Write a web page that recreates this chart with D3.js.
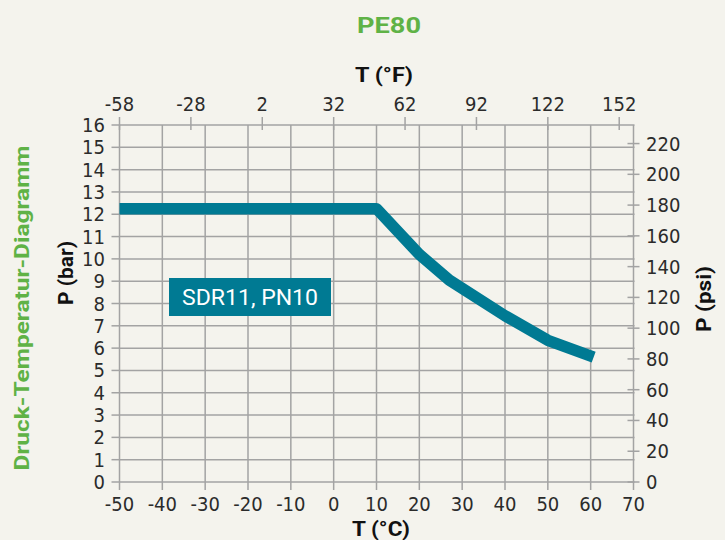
<!DOCTYPE html>
<html><head><meta charset="utf-8">
<script src="https://cdn.jsdelivr.net/npm/d3@7"></script>
<style>
html,body{margin:0;padding:0;background:#f4f3ed;}
svg{display:block;}
text{font-family:Roboto,"Noto Sans",sans-serif;}
.tick{font-family:"Liberation Sans Narrow","DejaVu Sans Condensed",Roboto,sans-serif;}
</style></head>
<body><svg id="c" width="725" height="540"></svg>
<script>
const title = "PE80";
const sideTitle = "Druck-Temperatur-Diagramm";
const seriesLabel = "SDR11, PN10";
const tempC = [-50, 10, 20, 27, 40, 50, 60.7];
const pressureBar = [12.25, 12.25, 10.2, 9.05, 7.45, 6.35, 5.6];
const xTicksC = [-50,-40,-30,-20,-10,0,10,20,30,40,50,60,70];
const yTicksBar = d3.range(0, 17);
const xTicksF = [-58,-28,2,32,62,92,122,152];
const yTicksPsi = [0,20,40,60,80,100,120,140,160,180,200,220];

const svg = d3.select("#c");
const x = d3.scaleLinear().domain([-50, 70]).range([119.5, 633.5]);
const y = d3.scaleLinear().domain([0, 16]).range([482, 125]);
const fToC = f => (f - 32) * 5 / 9;
const psiToBar = p => p / 14.5038;
const grid = "#a3a3a3";

// grid
svg.append("g").selectAll("line").data(yTicksBar).join("line")
  .attr("x1", x(-50)).attr("x2", x(70) + 1)
  .attr("y1", d => y(d)).attr("y2", d => y(d))
  .attr("stroke", grid).attr("stroke-width", 1.5);
svg.append("g").selectAll("line").data(xTicksC).join("line")
  .attr("x1", d => x(d)).attr("x2", d => x(d))
  .attr("y1", y(16)).attr("y2", y(0) + 8)
  .attr("stroke", grid).attr("stroke-width", 1.5);
svg.append("g").selectAll("line").data(yTicksBar).join("line")
  .attr("x1", x(-50) - 8).attr("x2", x(-50))
  .attr("y1", d => y(d)).attr("y2", d => y(d))
  .attr("stroke", grid).attr("stroke-width", 1.5);
svg.append("g").selectAll("line").data(xTicksF).join("line")
  .attr("x1", d => x(fToC(d))).attr("x2", d => x(fToC(d)))
  .attr("y1", y(16) - 8).attr("y2", y(16) + 5)
  .attr("stroke", grid).attr("stroke-width", 1.5);
svg.append("g").selectAll("line").data(yTicksPsi).join("line")
  .attr("x1", x(70) - 6).attr("x2", x(70) + 6)
  .attr("y1", d => y(psiToBar(d))).attr("y2", d => y(psiToBar(d)))
  .attr("stroke", grid).attr("stroke-width", 1.5);

const fs = "20px", fc = "#2b2b2b";
svg.append("g").selectAll("text").data(yTicksBar).join("text").attr("class", "tick")
  .attr("x", 105).attr("y", d => y(d) + 7)
  .attr("text-anchor", "end").attr("font-size", fs).attr("fill", fc).text(d => d);
svg.append("g").selectAll("text").data(xTicksC).join("text").attr("class", "tick")
  .attr("x", d => x(d)).attr("y", 511)
  .attr("text-anchor", "middle").attr("font-size", fs).attr("fill", fc).text(d => d);
svg.append("g").selectAll("text").data(xTicksF).join("text").attr("class", "tick")
  .attr("x", d => x(fToC(d))).attr("y", 111)
  .attr("text-anchor", "middle").attr("font-size", fs).attr("fill", fc).text(d => d);
svg.append("g").selectAll("text").data(yTicksPsi).join("text").attr("class", "tick")
  .attr("x", 646).attr("y", d => y(psiToBar(d)) + 7)
  .attr("text-anchor", "start").attr("font-size", fs).attr("fill", fc).text(d => d);

// titles
svg.append("text").attr("x", 389).attr("y", 33).attr("text-anchor", "middle")
  .attr("font-size", "22px").attr("font-weight", 700).attr("fill", "#5fb246")
  .attr("textLength", 64).attr("lengthAdjust", "spacingAndGlyphs").text(title);
svg.append("text").attr("x", 384).attr("y", 82).attr("text-anchor", "middle")
  .attr("font-size", "20px").attr("font-weight", 700).attr("fill", "#111")
  .attr("textLength", 58).attr("lengthAdjust", "spacingAndGlyphs").text("T (°F)");
svg.append("text").attr("x", 381).attr("y", 536).attr("text-anchor", "middle")
  .attr("font-size", "20px").attr("font-weight", 700).attr("fill", "#111")
  .attr("textLength", 58).attr("lengthAdjust", "spacingAndGlyphs").text("T (°C)");
svg.append("text").attr("transform", "translate(73,273) rotate(-90)").attr("text-anchor", "middle")
  .attr("font-size", "20px").attr("font-weight", 700).attr("fill", "#111")
  .attr("textLength", 64).attr("lengthAdjust", "spacingAndGlyphs").text("P (bar)");
svg.append("text").attr("transform", "translate(711,299) rotate(-90)").attr("text-anchor", "middle")
  .attr("font-size", "20px").attr("font-weight", 700).attr("fill", "#111")
  .attr("textLength", 66).attr("lengthAdjust", "spacingAndGlyphs").text("P (psi)");
svg.append("text").attr("transform", "translate(29,308) rotate(-90)").attr("text-anchor", "middle")
  .attr("font-size", "20px").attr("font-weight", 700).attr("fill", "#5fb246")
  .attr("textLength", 325).attr("lengthAdjust", "spacingAndGlyphs").text(sideTitle);

// series line
const data = tempC.map((t, i) => [t, pressureBar[i]]);
svg.append("path").datum(data)
  .attr("d", d3.line().x(d => x(d[0])).y(d => y(d[1])))
  .attr("fill", "none").attr("stroke", "#007a93").attr("stroke-width", 11.5)
  .attr("stroke-linejoin", "round").attr("stroke-linecap", "butt");

// label box
const g = svg.append("g");
g.append("rect").attr("x", 169).attr("y", 278).attr("width", 162).attr("height", 38).attr("fill", "#007a93");
g.append("text").attr("x", 250).attr("y", 305).attr("text-anchor", "middle")
  .attr("font-size", "22px").attr("font-weight", 400).attr("fill", "#fff")
  .attr("textLength", 136).attr("lengthAdjust", "spacingAndGlyphs").text(seriesLabel);
</script></body></html>
